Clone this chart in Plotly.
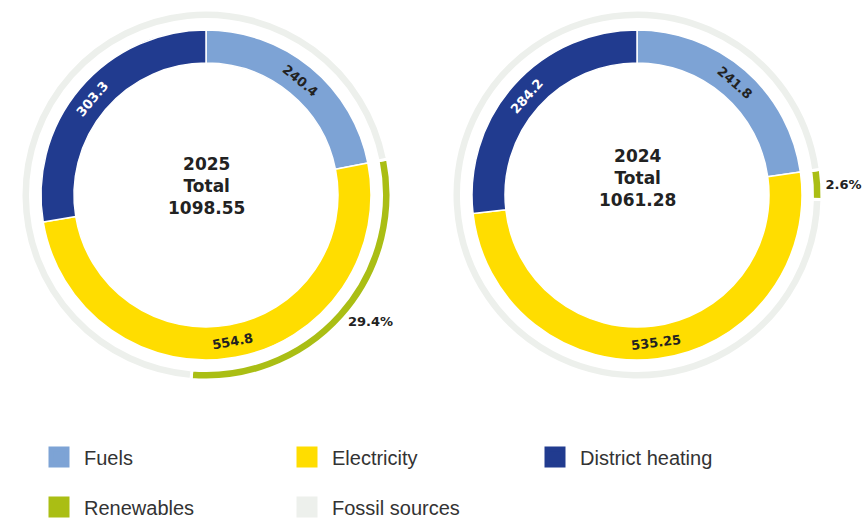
import math
import plotly.graph_objects as go

# ---------------- data ----------------
years = ["2025", "2024"]
categories = ["Fuels", "Electricity", "District heating"]
values_2025 = [240.4, 554.8, 303.3]
values_2024 = [241.8, 535.25, 284.2]
totals = [1098.55, 1061.28]
source_labels = ["Renewables", "Fossil sources"]
renewable_share = [29.4, 2.6]  # percent

# ---------------- style ----------------
cat_colors = ["#7DA3D5", "#FFDD00", "#213B8F"]
src_colors = ["#AABE14", "#EDF0EC"]
cat_text_colors = ["#222222", "#222222", "#FFFFFF"]

W, H = 866, 521
centers = [(206, 195), (637, 195)]
center_text_y = [186, 178]
R_IN, HOLE_IN = 165, 0.8
R_OUT, R_OUT_INNER = 185, 175.5

BOLD = "DejaVu Sans"


def dom(cx, cy, r):
    return dict(x=[(cx - r) / W, (cx + r) / W], y=[(H - cy - r) / H, (H - cy + r) / H])


fig = go.Figure()
annotations = []

for year, vals, total, share, (cx, cy), ty in zip(
    years, [values_2025, values_2024], totals, renewable_share, centers, center_text_y
):
    rot = 360 * vals[0] / sum(vals)
    # inner donut
    fig.add_trace(go.Pie(
        labels=categories, values=vals, sort=False, direction="clockwise", rotation=0,
        hole=HOLE_IN, domain=dom(cx, cy, R_IN),
        marker=dict(colors=cat_colors, line=dict(color="white", width=1.5)),
        textinfo="none", showlegend=False, hoverinfo="label+value",
    ))
    # value labels, placed tangentially at the middle of each slice
    s = sum(vals)
    acc = 0.0
    r_mid = R_IN * (1 + HOLE_IN) / 2
    for v, tc in zip(vals, cat_text_colors):
        mid = 360 * (acc + v / 2) / s
        acc += v
        a = math.radians(mid)
        px = cx + r_mid * math.sin(a)
        py = cy - r_mid * math.cos(a)
        ang = mid if (mid <= 90 or mid >= 270) else mid - 180
        if ang > 180:
            ang -= 360
        annotations.append(dict(
            text=f"{v:g}", x=px / W, y=(H - py) / H, xref="paper", yref="paper",
            xanchor="center", yanchor="middle", showarrow=False, textangle=ang,
            font=dict(family=BOLD, size=13, color=tc, weight="bold"),
        ))
    # outer thin ring
    fig.add_trace(go.Pie(
        labels=source_labels, values=[share, 100 - share], sort=False,
        direction="clockwise", rotation=rot,
        hole=R_OUT_INNER / R_OUT, domain=dom(cx, cy, R_OUT),
        marker=dict(colors=src_colors, line=dict(color="white", width=3)),
        texttemplate=["%{percent:.1%}", ""], textposition=["outside", "none"],
        outsidetextfont=dict(family=BOLD, size=13, color="#222222", weight="bold"),
        showlegend=False, hoverinfo="label+percent",
    ))
    annotations.append(dict(
        text=f"{year}<br>Total<br>{total:.2f}", x=cx / W, y=(H - ty) / H,
        xref="paper", yref="paper", xanchor="center", yanchor="middle",
        showarrow=False, align="center",
        font=dict(family=BOLD, size=17, color="#222222", weight="bold"),
    ))

# legend entries (dummy traces so the swatches can be larger)
for lab, col in zip(categories, cat_colors):
    fig.add_trace(go.Scatter(x=[None], y=[None], mode="markers", name=lab, legend="legend",
                             marker=dict(symbol="square", size=16, color=col,
                                         line=dict(color=col, width=5))))
for lab, col in zip(source_labels, src_colors):
    fig.add_trace(go.Scatter(x=[None], y=[None], mode="markers", name=lab, legend="legend2",
                             marker=dict(symbol="square", size=16, color=col,
                                         line=dict(color=col, width=5))))

leg_common = dict(orientation="h", xanchor="left", yanchor="middle",
                  entrywidth=193, entrywidthmode="pixels", itemsizing="trace", itemwidth=40,
                  font=dict(family="Liberation Sans", size=20, color="#333333"),
                  bgcolor="rgba(0,0,0,0)", traceorder="normal")

fig.update_layout(
    width=W, height=H,
    margin=dict(l=0, r=0, t=0, b=0, autoexpand=False),
    paper_bgcolor="white", plot_bgcolor="white",
    xaxis=dict(visible=False), yaxis=dict(visible=False),
    legend=dict(x=34 / W, y=(H - 457) / H, **leg_common),
    legend2=dict(x=34 / W, y=(H - 507) / H, **leg_common),
    annotations=annotations,
)

fig.write_html("out.html")
